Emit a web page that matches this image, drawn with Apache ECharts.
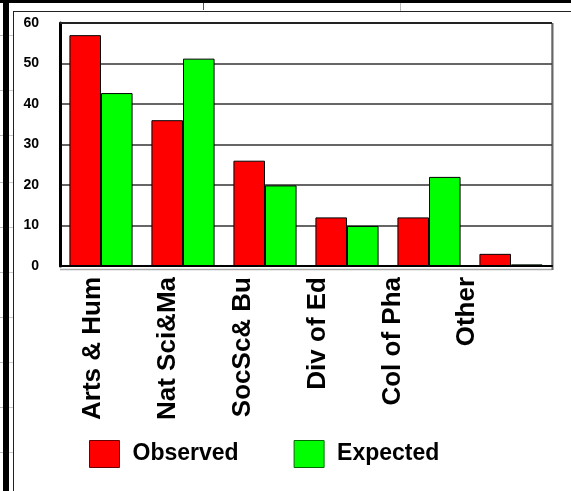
<!DOCTYPE html>
<html>
<head>
<meta charset="utf-8">
<style>
  html, body { margin: 0; padding: 0; background: #fff; }
  #chart { width: 571px; height: 491px; }
</style>
<script src="https://cdn.jsdelivr.net/npm/echarts@6/dist/echarts.min.js"></script>
</head>
<body>
<div id="chart"></div>
<script>
// Enrollment by college: observed vs. expected counts
const categories = ['Arts & Hum', 'Nat Sci&Ma', 'SocSc& Bu', 'Div of Ed', 'Col of Pha', 'Other'];
const observed = [57, 36, 26, 12, 12, 3];
const expected = [42.7, 51.2, 19.9, 9.9, 22, 0.4];
const yTicks = { min: 0, max: 60, step: 10 };
const seriesNames = ['Observed', 'Expected'];

const FONT = 'Liberation Sans, Arial, Helvetica, sans-serif';
const chart = echarts.init(document.getElementById('chart'), null, { renderer: 'canvas' });

// plot frame geometry
const plot = { left: 60, top: 23, right: 552, bottom: 266 };
const sheetRows = [35, 90, 135, 182, 227, 272, 317, 362, 407, 452];

chart.setOption({
  animation: false,
  backgroundColor: '#fff',
  grid: [
    {
      left: plot.left, top: plot.top,
      width: plot.right - plot.left, height: plot.bottom - plot.top,
      show: true, borderColor: '#777', borderWidth: 1, backgroundColor: 'transparent'
    },
    // label row for the category names
    { left: 55.6, top: plot.top, width: 449, height: plot.bottom - plot.top, show: false }
  ],
  xAxis: [
    {
      type: 'category', gridIndex: 0, data: categories,
      axisLine: { show: true, lineStyle: { color: '#000', width: 2 } },
      axisTick: { show: false },
      axisLabel: { show: false },
      splitLine: { show: false }
    },
    {
      type: 'category', gridIndex: 1, data: categories,
      axisLine: { show: false }, axisTick: { show: false },
      axisLabel: {
        show: true, rotate: 90, margin: 11, interval: 0,
        fontFamily: FONT, fontWeight: 'bold', fontSize: 26, color: '#000'
      }
    }
  ],
  yAxis: [
    {
      type: 'value', gridIndex: 0,
      min: yTicks.min, max: yTicks.max, interval: yTicks.step,
      axisLine: { show: true, lineStyle: { color: '#000', width: 3 } },
      axisTick: { show: false },
      axisLabel: {
        margin: 21, fontFamily: FONT, fontWeight: 'bold', fontSize: 14, color: '#000'
      },
      splitLine: { show: true, lineStyle: { color: '#333', width: 1.5 } }
    },
    { type: 'value', gridIndex: 1, show: false, min: 0, max: 60 }
  ],
  legend: {
    left: 89, top: 440, padding: 0,
    itemWidth: 30, itemHeight: 27, itemGap: 55,
    icon: 'rect',
    textStyle: {
      fontFamily: FONT, fontWeight: 'bold', fontSize: 23, color: '#000',
      padding: [0, 0, 0, 8]
    },
    data: [
      { name: seriesNames[0], itemStyle: { color: '#ff0000', borderColor: '#6a0000', borderWidth: 1 } },
      { name: seriesNames[1], itemStyle: { color: '#00ff00', borderColor: '#006a00', borderWidth: 1 } }
    ]
  },
  series: [
    {
      name: seriesNames[0], type: 'bar', xAxisIndex: 0, yAxisIndex: 0,
      data: observed, barGap: '0%', barCategoryGap: '23%',
      itemStyle: { color: '#ff0000', borderColor: '#000', borderWidth: 1 }
    },
    {
      name: seriesNames[1], type: 'bar', xAxisIndex: 0, yAxisIndex: 0,
      data: expected, barGap: '0%', barCategoryGap: '23%',
      itemStyle: { color: '#00ff00', borderColor: '#000', borderWidth: 1 }
    }
  ],
  graphic: [
    // outer sheet frame
    { type: 'rect', shape: { x: 0, y: 0, width: 571, height: 3 }, style: { fill: '#000' }, silent: true },
    { type: 'rect', shape: { x: 3, y: 0, width: 6, height: 491 }, style: { fill: '#000' }, silent: true },
    { type: 'line', shape: { x1: 13, y1: 11.5, x2: 571, y2: 11.5 }, style: { stroke: '#222', lineWidth: 1 }, silent: true },
    { type: 'line', shape: { x1: 13.5, y1: 11, x2: 13.5, y2: 491 }, style: { stroke: '#222', lineWidth: 1 }, silent: true },
    { type: 'line', shape: { x1: 400.5, y1: 3, x2: 400.5, y2: 11 }, style: { stroke: '#bbb', lineWidth: 1 }, silent: true },
    { type: 'line', shape: { x1: 203.5, y1: 3, x2: 203.5, y2: 10 }, style: { stroke: '#555', lineWidth: 1 }, silent: true },
    // faint sheet rows at the far left
    ...sheetRows.map(y => ({
      type: 'line', shape: { x1: 0, y1: y + 0.5, x2: 3, y2: y + 0.5 },
      style: { stroke: '#bbb', lineWidth: 1 }, silent: true
    })),
    ...sheetRows.map(y => ({
      type: 'line', shape: { x1: 9, y1: y + 0.5, x2: 13, y2: y + 0.5 },
      style: { stroke: '#ccc', lineWidth: 1 }, silent: true
    })),
    // plot frame: dark top edge, floor shadow and right edge
    { type: 'line', shape: { x1: plot.left, y1: plot.top, x2: plot.right, y2: plot.top }, style: { stroke: '#222', lineWidth: 2 }, silent: true, z: 10 },
    { type: 'line', shape: { x1: plot.left, y1: 269.5, x2: plot.right, y2: 269.5 }, style: { stroke: '#aaa', lineWidth: 1.5 }, silent: true },
    { type: 'line', shape: { x1: plot.right + 0.5, y1: plot.top, x2: plot.right + 0.5, y2: 270 }, style: { stroke: '#666', lineWidth: 2 }, silent: true }
  ]
});
</script>
</body>
</html>
